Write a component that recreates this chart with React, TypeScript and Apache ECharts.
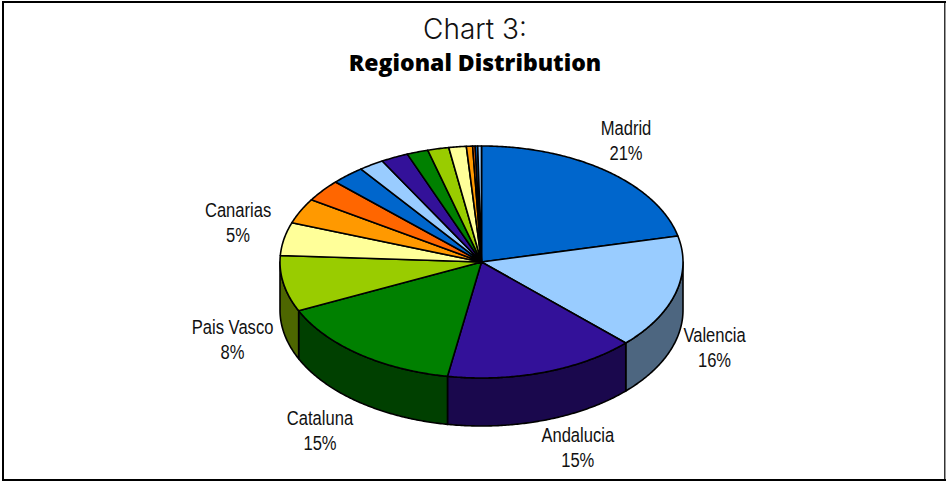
import React, { useEffect, useRef } from "react";
import * as echarts from "echarts";

// Regional shares in percent, clockwise from twelve o'clock.
const regionNames = [
  "Madrid", "Valencia", "Andalucia", "Cataluna", "Pais Vasco", "Canarias",
  "", "", "", "", "", "", "", "", "", "", "", "",
];
const regionShares = [
  21.4, 15.9, 15.4, 15.4, 7.8, 4.6, 3.5, 3.1, 2.7, 2.0, 2.2, 1.7, 1.7, 1.4, 0.5, 0.2, 0.2, 0.3,
];
const faceColors = ["#0066CC", "#99CCFF", "#331199", "#008000", "#99CC00", "#FFFF99", "#FF9900", "#FF6600"];
const wallColors = ["#003366", "#4D6680", "#1A084D", "#004000", "#4D6600", "#808040", "#804D00", "#803300"];

// Pie geometry: centre, ellipse radii and wall height of the tilted disc.
const CX = 481.5;
const CY = 262;
const RX = 201.5;
const RY = 116;
const DEPTH = 48;

// Where each label sits relative to the rim point at the slice's mid angle.
const labelOffsets: Record<string, [number, number]> = {
  Madrid: [19, -30],
  Valencia: [39, 55],
  Andalucia: [34, 76],
  Cataluna: [-39, 77],
  "Pais Vasco": [-51, 56],
  Canarias: [-46, -16],
};

const total = regionShares.reduce((a, b) => a + b, 0);
const boundaries = regionShares.reduce<number[]>(
  (acc, v) => [...acc, acc[acc.length - 1] + (v / total) * 360],
  [0],
);

const rimPoint = (deg: number, drop = 0): number[] => {
  const r = (deg * Math.PI) / 180;
  return [CX + RX * Math.sin(r), CY - RY * Math.cos(r) + drop];
};

const arcPoints = (from: number, to: number, drop = 0): number[][] => {
  const steps = Math.max(2, Math.ceil((to - from) / 0.5));
  const pts: number[][] = [];
  for (let i = 0; i <= steps; i++) pts.push(rimPoint(from + ((to - from) * i) / steps, drop));
  return pts;
};

const outline = { stroke: "#000", lineWidth: 1.6, lineJoin: "round" };

// Outer walls exist only on the front half of the disc.
const renderWall = (params: any) => {
  const i = params.dataIndex;
  const from = Math.max(boundaries[i], 90);
  const to = Math.min(boundaries[i + 1], 270);
  if (to <= from) return { type: "group", children: [] };
  const points = [...arcPoints(from, to), ...arcPoints(from, to, DEPTH).reverse()];
  return {
    type: "polygon",
    shape: { points },
    style: { fill: wallColors[i % wallColors.length], ...outline },
  };
};

const renderFace = (params: any) => {
  const i = params.dataIndex;
  const points = [[CX, CY], ...arcPoints(boundaries[i], boundaries[i + 1])];
  return {
    type: "polygon",
    shape: { points },
    style: { fill: faceColors[i % faceColors.length], ...outline },
  };
};

// Labels use a horizontally squeezed face to get the condensed look.
const renderLabel = (params: any, api: any) => {
  const i = params.dataIndex;
  const name = regionNames[i];
  if (!name) return { type: "group", children: [] };
  const [px, py] = rimPoint((boundaries[i] + boundaries[i + 1]) / 2);
  const [dx, dy] = labelOffsets[name];
  return {
    type: "text",
    x: px + dx,
    y: py + dy,
    scaleX: 0.85,
    style: {
      x: 0,
      y: 0,
      text: `${name}\n${Math.round((api.value(0) / total) * 100)}%`,
      align: "center",
      verticalAlign: "middle",
      lineHeight: 25,
      fontFamily: "'Liberation Sans', sans-serif",
      fontSize: 19.5,
      fill: "#111",
    },
  };
};

const seriesData = regionShares.map((v) => [v]);
const customSeries = (renderItem: any, z: number) => ({
  type: "custom",
  coordinateSystem: "none",
  silent: true,
  z,
  data: seriesData,
  renderItem,
});

const frameLine = (x1: number, y1: number, x2: number, y2: number, lineWidth: number) => ({
  type: "line",
  shape: { x1, y1, x2, y2 },
  style: { stroke: "#000", lineWidth },
  z: 100,
});

export default function App() {
  const ref = useRef<HTMLDivElement>(null);
  useEffect(() => {
    const chart = echarts.init(ref.current!, null, { renderer: "svg" });
    chart.setOption({
      animation: false,
      backgroundColor: "#fff",
      title: [
        {
          text: "Chart 3:",
          left: 470,
          top: 10,
          textAlign: "center",
          textStyle: { fontFamily: "Inter, sans-serif", fontWeight: 300, fontSize: 28, color: "#111" },
        },
        {
          text: "Regional Distribution",
          left: 470,
          top: 45,
          textAlign: "center",
          textStyle: { fontFamily: "'Open Sans', sans-serif", fontWeight: 800, fontSize: 23, color: "#000" },
        },
      ],
      graphic: [
        frameLine(2, 2, 946, 2, 2),
        frameLine(3, 1, 3, 481, 2),
        frameLine(2, 480, 946, 480, 2),
        frameLine(944.8, 1, 944.8, 481, 1.2),
      ],
      series: [customSeries(renderWall, 2), customSeries(renderFace, 3), customSeries(renderLabel, 4)],
    });
    return () => chart.dispose();
  }, []);
  return <div ref={ref} style={{ position: "absolute", left: 0, top: 0, width: 946, height: 481 }} />;
}
